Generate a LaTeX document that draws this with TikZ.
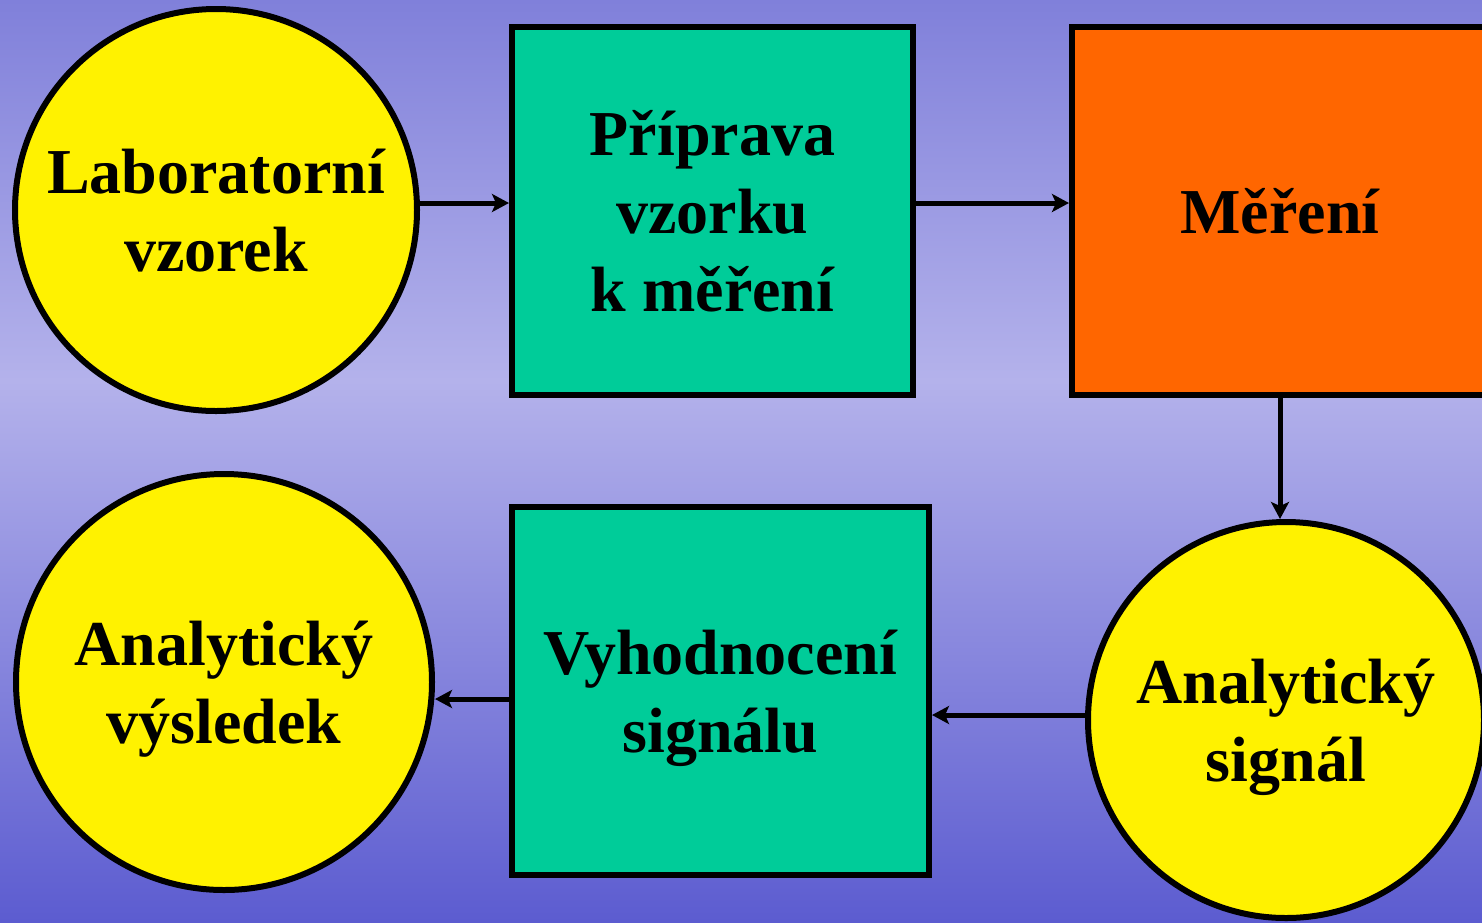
\documentclass[tikz,border=0pt]{standalone}
\usepackage{fontspec}
\setmainfont{Liberation Serif}
\usetikzlibrary{arrows.meta}

\definecolor{bgtop}{RGB}{128,128,218}
\definecolor{bgmid}{RGB}{180,178,235}
\definecolor{bgbot}{RGB}{92,92,208}
\definecolor{boxgreen}{RGB}{0,204,153}
\definecolor{boxorange}{RGB}{255,102,0}

\tikzset{every picture/.style={line width=5pt}}
\tikzset{
  bigtext/.style={font=\fontsize{64}{78}\selectfont\bfseries, align=center, text=black, text depth=0pt},
  kruh/.style={bigtext, circle, draw=black, line width=6pt, fill=yellow, inner sep=0pt},
  blok/.style={bigtext, rectangle, draw=black, line width=6pt, inner sep=0pt},
  sipka/.style={-{Stealth[length=17pt,width=18pt,inset=4pt]}, line width=5pt}
}

\begin{document}
\begin{tikzpicture}[x=1pt,y=1pt,yscale=-1,xscale=1]
	\useasboundingbox (0,0) rectangle (1482,922);
	\clip (0,0) rectangle (1482,922);

	% background
	\shade [top color=bgtop, bottom color=bgmid] (0,0) rectangle (1482,381);
	\shade [top color=bgmid, bottom color=bgbot] (0,380) rectangle (1482,922);

	% Nodes
	\node [kruh, minimum size=402pt] (lab) at (216,210) {Laboratorní\\vzorek};
	\node [blok, fill=boxgreen, minimum width=401pt, minimum height=368pt] (prip) at (712.5,211) {Příprava\\vzorku\\k měření};
	\node [blok, fill=boxorange, minimum width=416pt, minimum height=368pt] (mer) at (1280,211) {Měření};
	\node [kruh, minimum size=396pt] (sig) at (1286,720) {Analytický\\signál};
	\node [blok, fill=boxgreen, minimum width=417pt, minimum height=368pt] (vyh) at (720.5,691) {Vyhodnocení\\signálu};
	\node [kruh, minimum size=416pt] (vys) at (224,682) {Analytický\\výsledek};

	% Arrows
	\draw [sipka] ([yshift=-7pt]lab.east) -- ([yshift=-7pt]lab.east -| prip.west);
	\draw [sipka] ([yshift=-8pt]prip.east) -- ([yshift=-8pt]prip.east -| mer.west);
	\draw [sipka] (mer.south) -- (mer.south |- sig.north);
	\draw [sipka] ([yshift=-5pt]sig.west) -- ([yshift=-5pt]sig.west -| vyh.east);
	\draw [sipka] ([yshift=8pt]vyh.west) -- ([yshift=8pt]vyh.west -| vys.east);

\end{tikzpicture}
\end{document}
